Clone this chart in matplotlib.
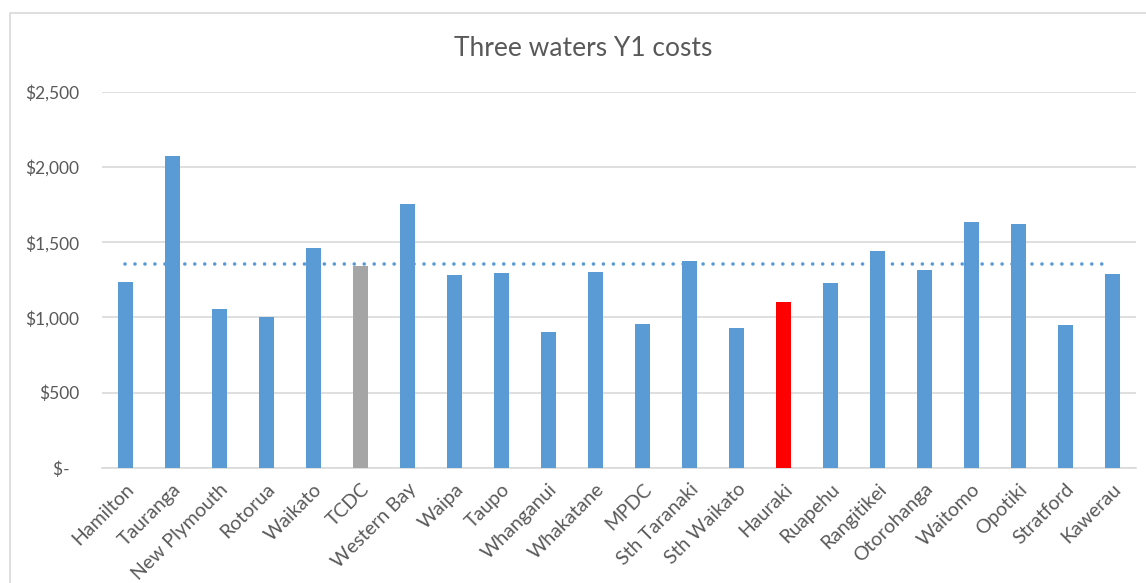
import matplotlib.pyplot as plt
from matplotlib.patches import Rectangle
import numpy as np
"""
Bar chart of first year three waters costs per council, with the average marked.
"""

councils = ["Hamilton", "Tauranga", "New Plymouth", "Rotorua", "Waikato", "TCDC",
            "Western Bay", "Waipa", "Taupo", "Whanganui", "Whakatane", "MPDC",
            "Sth Taranaki", "Sth Waikato", "Hauraki", "Ruapehu", "Rangitikei",
            "Otorohanga", "Waitomo", "Opotiki", "Stratford", "Kawerau"]
y1_costs = [1237, 2072, 1053, 1000, 1464, 1343, 1754, 1283, 1294, 903, 1301,
            956, 1376, 932, 1104, 1228, 1442, 1316, 1636, 1621, 949, 1290]
average_cost = 1357
y_ticks = [0, 500, 1000, 1500, 2000, 2500]
y_tick_labels = ["$-  ", "$500", "$1,000", "$1,500", "$2,000", "$2,500"]

BLUE = "#5b9bd5"
GREY = "#a5a5a5"
RED = "#ff0000"
TEXT = "#595959"
GRID = "#d9d9d9"

plt.rcParams["font.family"] = ["Lato", "DejaVu Sans"]


def bar_colour(name):
    # TCDC and Hauraki are picked out from the rest
    if name == "TCDC":
        return GREY
    if name == "Hauraki":
        return RED
    return BLUE


fig = plt.figure(figsize = (11.46, 5.83), dpi = 100)
ax = fig.add_axes([0.089, 0.1973, 0.9023, 0.6454])

# thin frame around the whole chart
fig.patches.append(Rectangle((10 / 1146, -0.05), 1.2, 1.05 - 13 / 583, transform = fig.transFigure,
                             fill = False, edgecolor = GRID, linewidth = 1.2))

x = np.arange(len(councils))
ax.bar(x, y1_costs, width = 0.3, color = [bar_colour(c) for c in councils], zorder = 3)

# dotted average line
ax.hlines(average_cost, 0, len(councils) - 1.2, color = BLUE, linewidth = 2.6,
          linestyles = [(0, (0.01, 2.75))], capstyle = "round", zorder = 4)

ax.set_xlim(-0.5, len(councils) - 0.5)
ax.set_ylim(0, 2500)
ax.set_yticks(y_ticks)
ax.set_yticklabels(y_tick_labels)
ax.set_xticks(x)
ax.set_xticklabels(councils, rotation = 45, ha = "right", rotation_mode = "anchor")
ax.tick_params(axis = "both", length = 0, colors = TEXT)
ax.tick_params(axis = "y", pad = 16.5, labelsize = 12.5)
ax.tick_params(axis = "x", pad = 9, labelsize = 14)
ax.grid(axis = "y", color = GRID, linewidth = 1.2, zorder = 0)
for side in ["left", "right", "top"]:
    ax.spines[side].set_visible(False)
ax.spines["bottom"].set_color(GRID)
ax.spines["bottom"].set_linewidth(1.2)

fig.text(0.5087, 1 - 48 / 583, "Three waters Y1 costs", ha = "center", va = "center",
         fontsize = 19, color = TEXT)

plt.savefig("out.png", dpi = 100)
plt.close()
